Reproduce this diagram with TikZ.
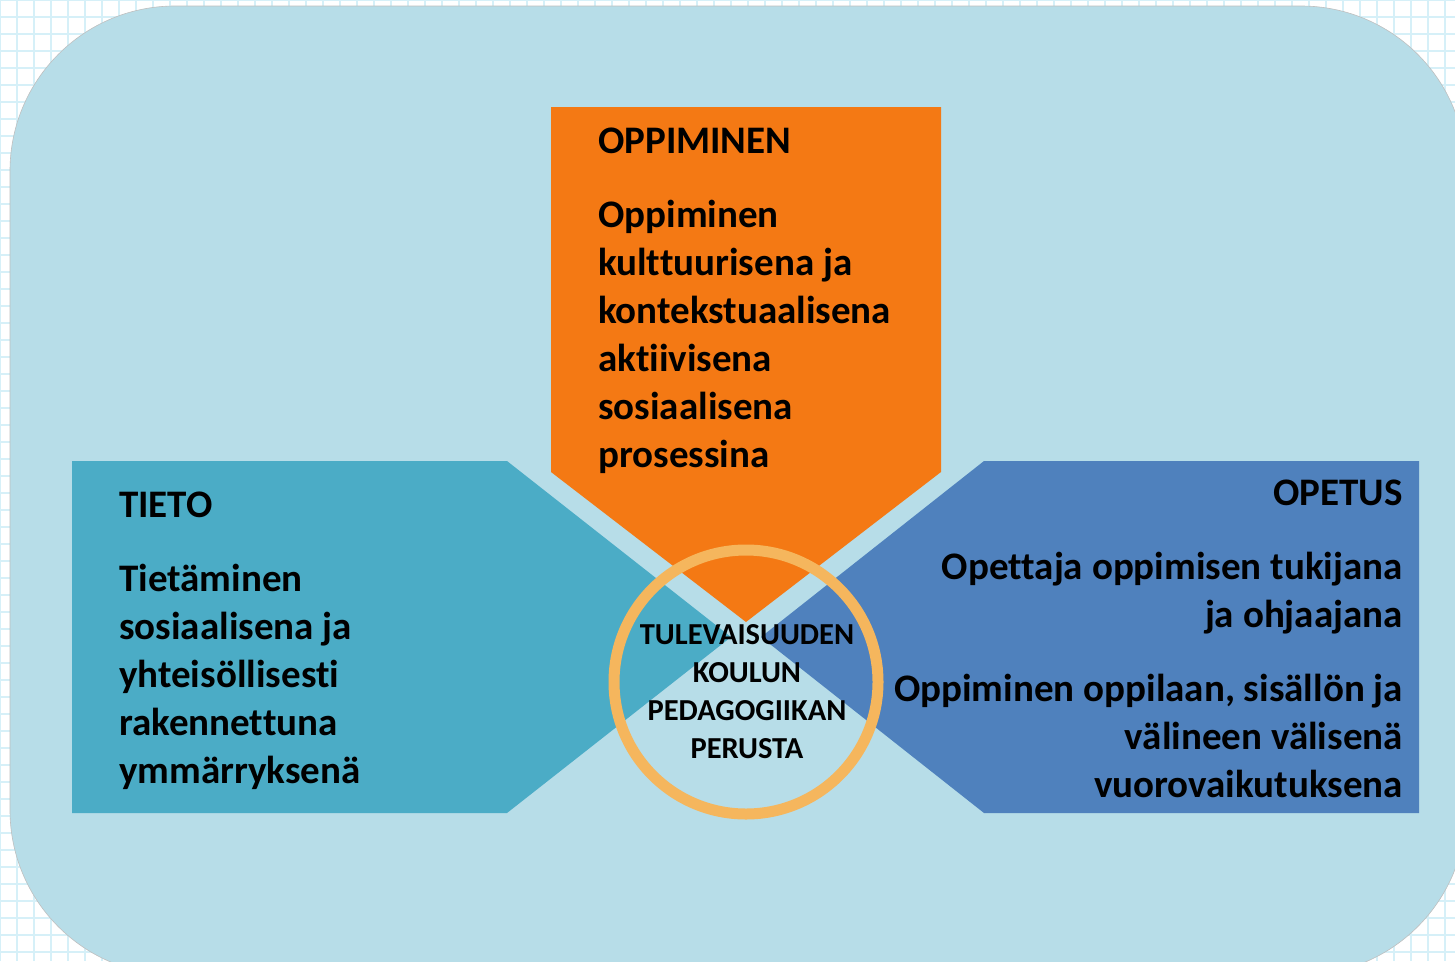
\documentclass[tikz,border=0pt]{standalone}
\usepackage{fontspec}
\setmainfont[Ligatures=CommonOff]{Carlito}
\usepackage{tikz}
\usetikzlibrary{calc}
\definecolor{bgblue}{HTML}{B7DDE8}
\definecolor{oppimisorange}{HTML}{F47914}
\definecolor{tietoteal}{HTML}{4BACC6}
\definecolor{opetusblue}{HTML}{4F81BD}
\definecolor{ringorange}{HTML}{F5B65D}
\definecolor{gridcyan}{HTML}{D6F0F8}
\def\bigtext{\fontsize{39}{48}\selectfont\bfseries}
\def\ringtext{\fontsize{30.5}{38}\selectfont\bfseries}
\def\fillshape{\fill}

\begin{document}
\begin{tikzpicture}[x=1pt,y=-1pt,inner sep=0pt,
  blocktext/.style={text=black,font=\bigtext}]
\useasboundingbox (0,0) rectangle (1455,961);

% -------- graph paper behind the card ---------
\foreach \gx in {0,17,...,1455} \draw[gridcyan, line width=1.5] (\gx,0) -- (\gx,961);
\foreach \gy in {0,17,...,961} \draw[gridcyan, line width=1.5] (0,\gy) -- (1455,\gy);

% the light blue card, running off the right and bottom edges
\fill[bgblue, draw=black!25, line width=0.6, rounded corners=165] (10,6) rectangle (1466,975);

% -------- the three arrows, all pointing at the middle ---------
\coordinate (mid) at (746,637); % where the gaps cross
\fillshape[oppimisorange] (551,107) -- (941,107) -- (941,472) -- ($ (mid) + (0,-15) $) -- (551,472) -- cycle;
\fillshape[tietoteal] (72,461) -- (507,461) -- ($ (mid) + (-15,0) $) -- (507,813) -- (72,813) -- cycle;
\fillshape[opetusblue] (1419,461) -- (984,461) -- ($ (mid) + (15,0) $) -- (984,813) -- (1419,813) -- cycle;

% ring in the middle (no fill, the arrows show through)
\node[circle, draw=ringorange, line width=11, minimum size=264] (ring) at (746,682) {};

% -------- OPPIMINEN ---------
% multi-line blocks sit on the baseline of their last line
\node[blocktext, anchor=base west] (oppTitle) at (598,153) {OPPIMINEN};
\node[blocktext, anchor=base west, align=left] (oppBody) at (598,467)
  {Oppiminen\\kulttuurisena ja\\kontekstuaalisena\\aktiivisena\\sosiaalisena\\prosessina};

% -------- TIETO ---------
\node[blocktext, anchor=base west] (tietoTitle) at (119,517) {TIETO};
\node[blocktext, anchor=base west, align=left] (tietoBody) at (119,783)
  {Tietäminen\\sosiaalisena ja\\yhteisöllisesti\\rakennettuna\\ymmärryksenä};

% -------- OPETUS ---------
\node[blocktext, anchor=base east] (opetusTitle) at (1403,505) {OPETUS};
\node[blocktext, anchor=base east, align=right] (opetusTop) at (1403,627)
  {Opettaja oppimisen tukijana\\ja ohjaajana};
\node[blocktext, anchor=base east, align=right] (opetusLow) at (1403,797)
  {Oppiminen oppilaan, sisällön ja\\välineen välisenä\\vuorovaikutuksena};

% centre text
\node[font=\ringtext, align=center, anchor=base] (ringText) at (747,758)
  {TULEVAISUUDEN\\KOULUN\\PEDAGOGIIKAN\\PERUSTA};
\end{tikzpicture}
\end{document}
